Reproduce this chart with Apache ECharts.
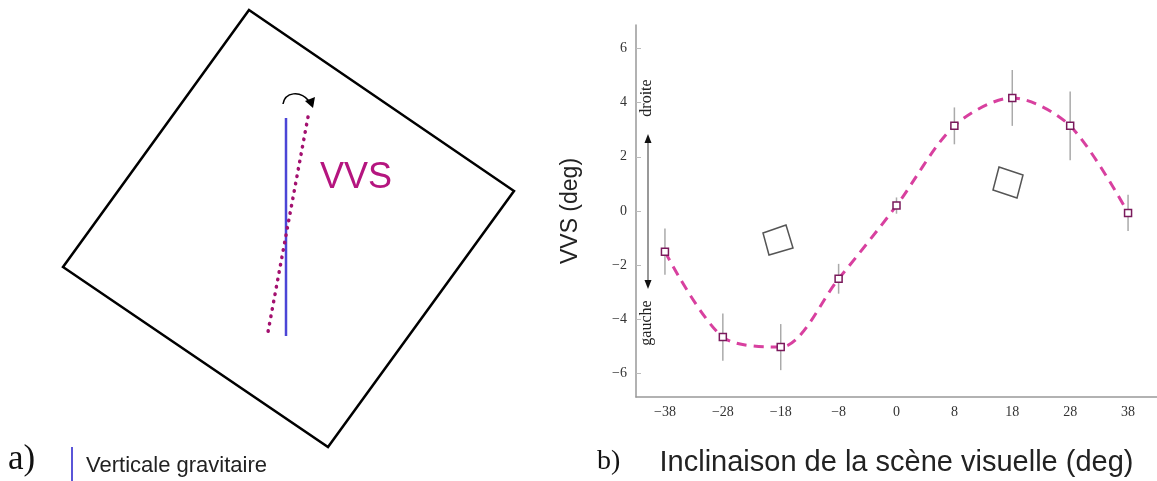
<!DOCTYPE html>
<html><head><meta charset="utf-8">
<script src="https://cdn.jsdelivr.net/npm/echarts@6/dist/echarts.min.js"></script>
<style>html,body{margin:0;padding:0;background:#fff}#c{width:1157px;height:481px}</style>
</head><body><div id="c"></div>
<script>
// ---- data ----
const categories = ['-38','-28','-18','-8','0','8','18','28','38'];
const vvsMean = [-1.5, -4.65, -5.02, -2.5, 0.2, 3.14, 4.17, 3.14, -0.07];
const vvsErr  = [0.85, 0.87, 0.85, 0.55, 0.3, 0.68, 1.03, 1.27, 0.67];
const yTicks  = [-6, -4, -2, 0, 2, 4, 6];

const minus = v => String(v).replace('-', '\u2212');
const errData = categories.map((c, i) => [i, vvsMean[i] - vvsErr[i], vvsMean[i] + vvsErr[i]]);

const chart = echarts.init(document.getElementById('c'), null, {renderer: 'canvas'});
const SANS = '"Liberation Sans", Arial, sans-serif';
const SERIF = '"Liberation Serif", "Times New Roman", serif';

chart.setOption({
  animation: false,
  backgroundColor: '#fff',
  grid: {left: 636, right: 0, top: 25, bottom: 84, containLabel: false, outerBoundsMode: 'none'},
  xAxis: {
    type: 'category', data: categories, boundaryGap: true,
    axisLine: {onZero: false, lineStyle: {color: '#999', width: 1.5}},
    axisTick: {show: false},
    axisLabel: {formatter: minus, fontFamily: SERIF, fontSize: 14, color: '#333', margin: 8},
    name: 'Inclinaison de la sc\u00e8ne visuelle (deg)', nameLocation: 'middle', nameGap: 51,
    nameTextStyle: {fontFamily: SANS, fontSize: 29, color: '#222'}
  },
  yAxis: {
    type: 'value', min: -6.86, max: 6.86,
    axisLine: {show: true, lineStyle: {color: '#999', width: 1.5}},
    axisTick: {show: true, inside: true, length: 5, customValues: yTicks, lineStyle: {color: '#bbb'}},
    axisLabel: {customValues: yTicks, formatter: minus, fontFamily: SERIF, fontSize: 14, color: '#333', margin: 9},
    splitLine: {show: false},
    name: 'VVS (deg)', nameLocation: 'middle', nameGap: 54, nameRotate: 90,
    nameTextStyle: {fontFamily: SANS, fontSize: 23, color: '#222'}
  },
  series: [
    {
      type: 'custom', data: errData, encode: {x: 0, y: [1, 2]}, z: 1,
      renderItem: (params, api) => {
        const lo = api.coord([api.value(0), api.value(1)]);
        const hi = api.coord([api.value(0), api.value(2)]);
        return {type: 'line', shape: {x1: lo[0], y1: lo[1], x2: hi[0], y2: hi[1]},
                style: {stroke: '#aaa', lineWidth: 1.5}};
      }
    },
    {
      type: 'line', data: vvsMean, smooth: 0.3, z: 3,
      lineStyle: {color: '#d8409f', width: 3, type: [10, 7]},
      symbol: 'rect', symbolSize: 7, showSymbol: true,
      itemStyle: {color: '#fff', borderColor: '#7a1a5c', borderWidth: 1.5}
    }
  ],
  graphic: [
    // panel a illustration
    {type: 'polygon', shape: {points: [[249,10],[514,191],[328,447],[63,267]]},
     style: {fill: 'none', stroke: '#000', lineWidth: 2.5}},
    {type: 'line', shape: {x1: 286, y1: 118, x2: 286, y2: 336}, style: {stroke: '#4b45d6', lineWidth: 2.5}},
    {type: 'line', shape: {x1: 308, y1: 117, x2: 268, y2: 332},
     style: {stroke: '#a3106f', lineWidth: 3.5, lineDash: [0.5, 7], lineCap: 'round'}},
    {type: 'bezierCurve', shape: {x1: 283, y1: 104, cpx1: 285, cpy1: 92, cpx2: 300, cpy2: 90, x2: 309, y2: 101},
     style: {fill: 'none', stroke: '#000', lineWidth: 1.5}},
    {type: 'polygon', shape: {points: [[305,101],[315,97],[313,108]]}, style: {fill: '#000'}},
    {type: 'text', x: 320, y: 178, style: {text: 'VVS', font: '36px ' + SANS, fill: '#b5157f', align: 'left', verticalAlign: 'middle'}},
    {type: 'text', x: 8, y: 460, style: {text: 'a)', font: '35px ' + SERIF, fill: '#111', align: 'left', verticalAlign: 'middle'}},
    {type: 'line', shape: {x1: 72, y1: 447, x2: 72, y2: 481}, style: {stroke: '#5a55d8', lineWidth: 2}},
    {type: 'text', x: 86, y: 466, style: {text: 'Verticale gravitaire', font: '22px ' + SANS, fill: '#222', align: 'left', verticalAlign: 'middle'}},
    // panel b decorations
    {type: 'text', x: 597, y: 462, style: {text: 'b)', font: '28px ' + SERIF, fill: '#111', align: 'left', verticalAlign: 'middle'}},
    {type: 'line', shape: {x1: 648, y1: 140, x2: 648, y2: 283}, style: {stroke: '#777', lineWidth: 1.5}},
    {type: 'polygon', shape: {points: [[648,134],[644.5,143],[651.5,143]]}, style: {fill: '#111'}},
    {type: 'polygon', shape: {points: [[648,289],[644.5,280],[651.5,280]]}, style: {fill: '#111'}},
    {type: 'text', x: 647, y: 98, rotation: Math.PI / 2, style: {text: 'droite', font: '16px ' + SERIF, fill: '#222', align: 'center', verticalAlign: 'middle'}},
    {type: 'text', x: 647, y: 323, rotation: Math.PI / 2, style: {text: 'gauche', font: '16px ' + SERIF, fill: '#222', align: 'center', verticalAlign: 'middle'}},
    {type: 'polygon', shape: {points: [[763,233],[786,225],[793,248],[769,255]]}, style: {fill: 'none', stroke: '#555', lineWidth: 1.5}},
    {type: 'polygon', shape: {points: [[999,167],[1023,175],[1017,198],[993,190]]}, style: {fill: 'none', stroke: '#555', lineWidth: 1.5}}
  ]
});
</script></body></html>
